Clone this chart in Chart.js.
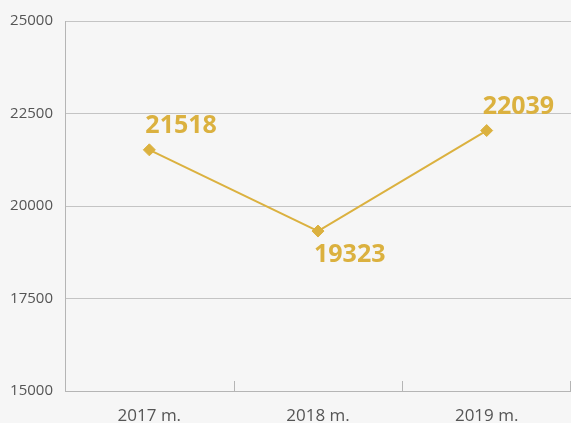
<!DOCTYPE html>
<html>
<head>
<meta charset="utf-8">
<script src="https://cdn.jsdelivr.net/npm/chart.js@4/dist/chart.umd.min.js"></script>
<style>
  html, body { margin: 0; padding: 0; background: #f6f6f6; }
  canvas { display: block; }
</style>
</head>
<body>
<canvas id="myChart" width="571" height="423"></canvas>
<script>
// data
const years = ["2017 m.", "2018 m.", "2019 m."];
const values = [21518, 19323, 22039];
const labelSide = [-1, 1, -1]; // -1 above the point, 1 below

const gold = "#dbb13f";
const axisColor = "#b5b5b5";

// value labels next to each point
const valueLabels = {
    id: "valueLabels",
    afterDatasetsDraw(chart) {
        const ctx = chart.ctx;
        const meta = chart.getDatasetMeta(0);
        ctx.save();
        ctx.font = "bold 25px 'Open Sans'";
        ctx.fillStyle = gold;
        ctx.textAlign = "left";
        ctx.textBaseline = "middle";
        meta.data.forEach((pt, i) => {
            ctx.fillText(String(values[i]), pt.x - 4, pt.y + labelSide[i] * 24);
        });
        ctx.restore();
    }
};

// small tick marks between categories, pointing up into the plot
const innerTicks = {
    id: "innerTicks",
    afterDraw(chart) {
        const x = chart.scales.x;
        const ctx = chart.ctx;
        const bottom = chart.chartArea.bottom;
        ctx.save();
        ctx.strokeStyle = axisColor;
        ctx.lineWidth = 1;
        for (let i = 0; i < years.length; i++) {
            let px;
            if (i < years.length - 1) {
                px = (x.getPixelForTick(i) + x.getPixelForTick(i + 1)) / 2;
            } else {
                px = chart.chartArea.right - 1;
            }
            px = Math.round(px) + 0.5;
            ctx.beginPath();
            ctx.moveTo(px, bottom);
            ctx.lineTo(px, bottom - 10);
            ctx.stroke();
        }
        ctx.restore();
    }
};

const ctx = document.getElementById("myChart");

let chart1 = new Chart(ctx, {
    type: "line",
    data: {
        labels: years,
        datasets: [{
            data: values,
            borderColor: gold,
            backgroundColor: gold,
            borderWidth: 2,
            pointStyle: "rectRot",
            pointRadius: 6,
            pointBorderWidth: 1,
            lineTension: 0
        }]
    },
    options: {
        responsive: false,
        devicePixelRatio: 1,
        animation: false,
        layout: { autoPadding: false, padding: { top: 19, left: 0, right: 0, bottom: 0 } },
        plugins: {
            legend: { display: false },
            tooltip: { enabled: false }
        },
        scales: {
            x: {
                offset: true,
                afterFit(scale) {
                    scale.height = 32;
                    scale.paddingLeft = 0;
                    scale.paddingRight = 0;
                },
                grid: { display: false },
                border: { display: true, color: axisColor, width: 1 },
                ticks: {
                    color: "#555",
                    padding: 7,
                    font: { family: "'Open Sans'", size: 17 }
                }
            },
            y: {
                min: 15000,
                max: 25000,
                afterFit(scale) { scale.width = 65; },
                grid: { color: "#c4c4c4", drawTicks: false },
                border: { display: true, color: axisColor, width: 1 },
                ticks: {
                    stepSize: 2500,
                    color: "#555",
                    padding: 12,
                    font: { family: "'Open Sans'", size: 15 },
                    callback: (v) => String(v)
                }
            }
        }
    },
    plugins: [valueLabels, innerTicks]
});
</script>
</body>
</html>
